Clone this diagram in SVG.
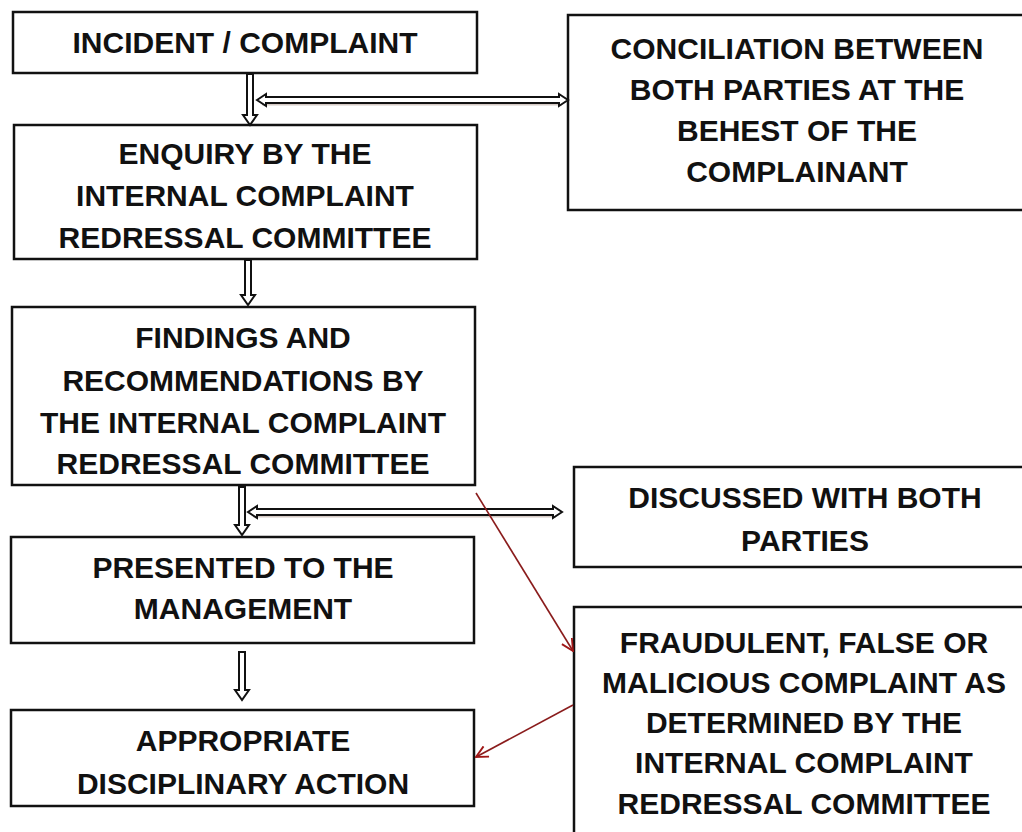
<svg xmlns="http://www.w3.org/2000/svg" width="1022" height="832" viewBox="0 0 1022 832">
<defs>
<style>
.box{fill:#fff;stroke:#111;stroke-width:2.5}
.t{font-family:"Liberation Sans",Arial,sans-serif;font-weight:bold;font-size:30px;fill:#111;text-anchor:middle}
.blk{fill:#fff;stroke:#111;stroke-width:2;stroke-linejoin:miter}
.shadow{fill:none;stroke:#b9a79f;stroke-width:3;opacity:0.6}
.red{fill:none;stroke:#8a1c1c;stroke-width:1.6}
</style>
<marker id="open" viewBox="0 0 12 12" refX="11" refY="6" markerWidth="14" markerHeight="14" markerUnits="userSpaceOnUse" orient="auto">
<path d="M1,1 L11,6 L1,11" fill="none" stroke="#a01818" stroke-width="1.6"/>
</marker>
</defs>
<rect width="1022" height="832" fill="#fff"/>

<g id="n1"><rect class="box" x="13" y="12" width="464" height="61"/><text class="t" x="245" y="53">INCIDENT / COMPLAINT</text></g>
<g id="n2"><rect class="box" x="14" y="125" width="463" height="134"/>
<text class="t" x="245" y="164">ENQUIRY BY THE</text>
<text class="t" x="245" y="206">INTERNAL COMPLAINT</text>
<text class="t" x="245" y="248">REDRESSAL COMMITTEE</text></g>
<g id="n3"><rect class="box" x="12" y="307" width="463" height="178"/>
<text class="t" x="243" y="348">FINDINGS AND</text>
<text class="t" x="243" y="391">RECOMMENDATIONS BY</text>
<text class="t" x="243" y="433">THE INTERNAL COMPLAINT</text>
<text class="t" x="243" y="474">REDRESSAL COMMITTEE</text></g>
<g id="n4"><rect class="box" x="11" y="537" width="463" height="106"/>
<text class="t" x="243" y="578">PRESENTED TO THE</text>
<text class="t" x="243" y="619">MANAGEMENT</text></g>
<g id="n5"><rect class="box" x="11" y="710" width="463" height="96"/>
<text class="t" x="243" y="751">APPROPRIATE</text>
<text class="t" x="243" y="794">DISCIPLINARY ACTION</text></g>

<g id="r1"><rect class="box" x="568" y="15" width="480" height="195"/>
<text class="t" x="797" y="59">CONCILIATION BETWEEN</text>
<text class="t" x="797" y="100">BOTH PARTIES AT THE</text>
<text class="t" x="797" y="141">BEHEST OF THE</text>
<text class="t" x="797" y="182">COMPLAINANT</text></g>
<g id="r2"><rect class="box" x="574" y="467" width="480" height="100"/>
<text class="t" x="805" y="508">DISCUSSED WITH BOTH</text>
<text class="t" x="805" y="551">PARTIES</text></g>
<g id="r3"><rect class="box" x="574" y="607" width="480" height="250"/>
<text class="t" x="804" y="653">FRAUDULENT, FALSE OR</text>
<text class="t" x="804" y="693">MALICIOUS COMPLAINT AS</text>
<text class="t" x="804" y="733">DETERMINED BY THE</text>
<text class="t" x="804" y="773">INTERNAL COMPLAINT</text>
<text class="t" x="804" y="814">REDRESSAL COMMITTEE</text></g>

<g id="connectors">
<line class="shadow" x1="262" y1="104" x2="562" y2="104"/>
<line class="shadow" x1="253" y1="516" x2="556" y2="516"/>
<polygon class="blk" points="247,74 253,74 253,115 257,115 250,125 243,115 247,115"/>
<polygon class="blk" points="257,100 266,94 266,97 559,97 559,94 568,100 559,106 559,103 266,103 266,106"/>
<polygon class="blk" points="245,260 251,260 251,295 255,295 248,305 241,295 245,295"/>
<polygon class="blk" points="239,487 245,487 245,525 249,525 242,535 235,525 239,525"/>
<polygon class="blk" points="248,512 257,506 257,509 553,509 553,506 562,512 553,518 553,515 257,515 257,518"/>
<polygon class="blk" points="239,652 245,652 245,690 249,690 242,700 235,690 239,690"/>
<line class="red" x1="476" y1="493" x2="573" y2="651" marker-end="url(#open)"/>
<line class="red" x1="573" y1="705" x2="476" y2="757" marker-end="url(#open)"/>
</g>
</svg>
